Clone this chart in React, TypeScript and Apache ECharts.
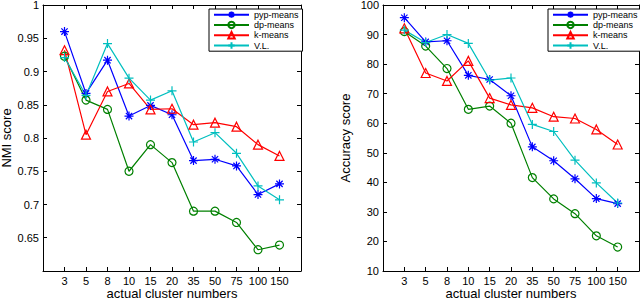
import React, { useEffect, useRef } from "react";
import * as echarts from "echarts";

const categories = ["3", "5", "8", "10", "15", "20", "35", "50", "75", "100", "150"];
const seriesNames = ["pyp-means", "dp-means", "k-means", "V.L."];

const nmiPyp = [0.96, 0.867, 0.917, 0.833, 0.849, 0.835, 0.766, 0.768, 0.758, 0.715, 0.731];
const nmiDp = [0.923, 0.857, 0.843, 0.75, 0.79, 0.763, 0.69, 0.69, 0.673, 0.632, 0.639];
const nmiK = [0.932, 0.805, 0.87, 0.882, 0.843, 0.844, 0.82, 0.823, 0.817, 0.79, 0.773];
const nmiVL = [0.921, 0.864, 0.942, 0.89, 0.857, 0.871, 0.794, 0.808, 0.777, 0.728, 0.707];

const accPyp = [95.7, 87.5, 87.9, 76.2, 74.8, 69.3, 52.0, 47.3, 41.2, 34.5, 32.8];
const accDp = [91.0, 86.1, 78.5, 64.7, 65.8, 60.0, 41.6, 34.4, 29.4, 21.9, 18.1];
const accK = [92.1, 77.0, 74.3, 81.1, 68.5, 66.2, 65.2, 62.2, 61.6, 57.9, 52.8];
const accVL = [91.5, 87.3, 90.0, 87.0, 74.6, 75.3, 59.6, 57.2, 47.5, 39.8, 33.0];

const colors = ["#0000ff", "#008000", "#ff0000", "#00bfbf"];
const symbols = [
  "path://M10,0L10,20M0,10L20,10M3,3L17,17M3,17L17,3",
  "circle",
  "triangle",
  "path://M10,0L10,20M0,10L20,10",
];
const symbolSizes = [9, 8, 9, 9];

const FONT = "'Liberation Sans', Arial, Helvetica, sans-serif";

function makeSeries(name: string, idx: number, values: number[], axisIdx: number) {
  const c = colors[idx];
  return {
    name,
    type: "line",
    xAxisIndex: axisIdx * 2,
    yAxisIndex: axisIdx * 2,
    data: values.map((v, i) => [i + 1, v]),
    symbol: symbols[idx],
    symbolSize: symbolSizes[idx],
    showAllSymbol: true,
    lineStyle: { color: c, width: 1.2 },
    itemStyle: { color: idx === 1 || idx === 2 ? "transparent" : c, borderColor: c, borderWidth: 1.2 },
    emphasis: { disabled: true },
  };
}

function xAxes(grid: number) {
  const base = {
    gridIndex: grid,
    type: "value",
    min: 0,
    max: 12,
    interval: 1,
    splitLine: { show: false },
    axisLine: { show: true, onZero: false, lineStyle: { color: "#000", width: 1 } },
    axisTick: { show: true, inside: true, length: 4, lineStyle: { color: "#000" } },
  };
  return [
    {
      ...base,
      position: "bottom",
      name: "actual cluster numbers",
      nameLocation: "middle",
      nameGap: 16,
      nameMoveOverlap: false,
      nameTextStyle: { fontFamily: FONT, fontSize: 13, color: "#000", lineHeight: 12 },
      axisLabel: {
        margin: 4,
        fontFamily: FONT,
        fontSize: 11,
        lineHeight: 11,
        color: "#000",
        formatter: (v: number) => categories[v - 1] ?? "",
      },
    },
    { ...base, position: "top", axisLabel: { show: false } },
  ];
}

function yAxes(grid: number, min: number, max: number, interval: number, name: string, nameGap: number, hideMin: boolean) {
  const base = {
    gridIndex: grid,
    type: "value",
    min,
    max,
    interval,
    splitLine: { show: false },
    axisLine: { show: true, onZero: false, lineStyle: { color: "#000", width: 1 } },
    axisTick: { show: true, inside: true, length: 4, lineStyle: { color: "#000" } },
  };
  return [
    {
      ...base,
      position: "left",
      name,
      nameLocation: "middle",
      nameGap,
      nameMoveOverlap: false,
      nameTextStyle: { fontFamily: FONT, fontSize: 13, color: "#000" },
      axisLabel: {
        margin: 4,
        fontFamily: FONT,
        fontSize: 11,
        color: "#000",
        formatter: (v: number) => (hideMin && Math.abs(v - min) < 1e-9 ? "" : String(+v.toFixed(2))),
      },
    },
    { ...base, position: "right", axisLabel: { show: false } },
  ];
}

function legend(left: number) {
  return {
    orient: "vertical",
    left,
    top: 9,
    data: seriesNames,
    backgroundColor: "#fff",
    borderColor: "#000",
    borderWidth: 1,
    padding: [1, 4, 1, 4],
    itemWidth: 35,
    itemHeight: 8,
    itemGap: 1,
    selectedMode: false,
    textStyle: { fontFamily: FONT, fontSize: 9, color: "#000", lineHeight: 9.3 },
  };
}

export default function App() {
  const ref = useRef<HTMLDivElement>(null);
  useEffect(() => {
    if (!ref.current) return;
    const chart = echarts.init(ref.current, null, { renderer: "svg" });
    chart.setOption({
      animation: false,
      backgroundColor: "#fff",
      grid: [
        { left: 43, top: 5, width: 258, height: 266, outerBoundsMode: "none", containLabel: false },
        { left: 383, top: 5, width: 256, height: 266, outerBoundsMode: "none", containLabel: false },
      ],
      xAxis: [...xAxes(0), ...xAxes(1)],
      yAxis: [
        ...yAxes(0, 0.6, 1, 0.05, "NMI score", 30, true),
        ...yAxes(1, 10, 100, 10, "Accuracy score", 31, false),
      ],
      legend: [legend(209), legend(548)],
      series: [
        makeSeries("pyp-means", 0, nmiPyp, 0),
        makeSeries("dp-means", 1, nmiDp, 0),
        makeSeries("k-means", 2, nmiK, 0),
        makeSeries("V.L.", 3, nmiVL, 0),
        makeSeries("pyp-means", 0, accPyp, 1),
        makeSeries("dp-means", 1, accDp, 1),
        makeSeries("k-means", 2, accK, 1),
        makeSeries("V.L.", 3, accVL, 1),
      ],
    });
    return () => chart.dispose();
  }, []);
  return (
    <div
      ref={ref}
      style={{ position: "fixed", left: 0, top: 0, width: 640, height: 299, background: "#fff" }}
    />
  );
}
